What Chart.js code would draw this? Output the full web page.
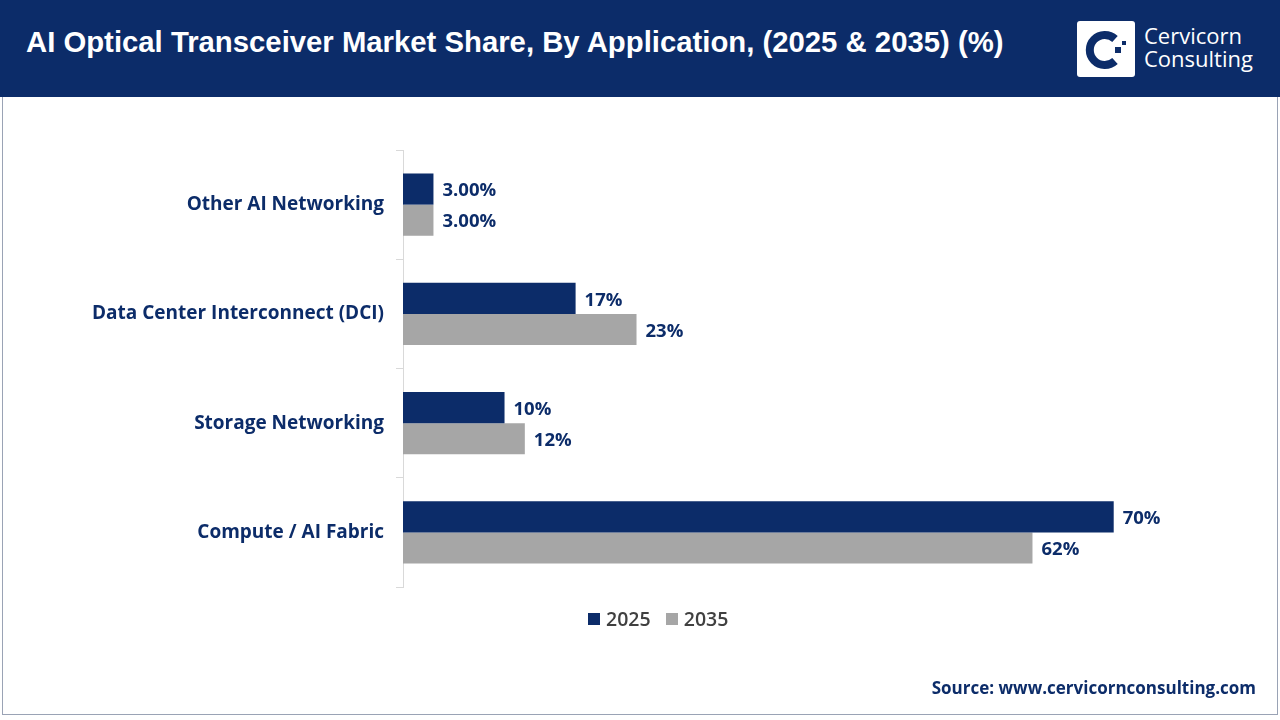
<!DOCTYPE html>
<html><head><meta charset="utf-8">
<script src="https://cdn.jsdelivr.net/npm/chart.js@4"></script>
<style>
body{margin:0;width:1280px;height:720px;overflow:hidden;background:#fff;font-family:"Open Sans",sans-serif;}
#hdr{position:absolute;left:0;top:0;width:1280px;height:97px;background:#0c2c69;}
#title{position:absolute;left:26px;top:25px;color:#fff;font:bold 29.3px "Liberation Sans",Arial,sans-serif;}
#logo{position:absolute;left:1077px;top:21px;width:58px;height:56px;background:#fff;border-radius:3px;}
#lt{position:absolute;left:1144px;top:24px;color:#fff;font:22px "Open Sans";line-height:23px;}
#frame{position:absolute;left:2px;top:97px;width:1274px;height:617px;border:1px solid #9aa3b5;border-top:none;}
canvas{position:absolute;left:0;top:0;}
#leg{position:absolute;top:605px;left:588px;font:600 19.5px "Open Sans";color:#404040;}
#leg span.b{display:inline-block;width:12px;height:12px;margin-right:6px;vertical-align:1px;}
#src{position:absolute;right:24px;top:676px;font:bold 17px "Open Sans";color:#0c2c69;}
</style></head><body>
<div id="hdr"></div>
<div id="title">AI Optical Transceiver Market Share, By Application, (2025 &amp; 2035) (%)</div>
<div id="logo"><svg width="58" height="56" viewBox="0 0 58 56"><path d="M38 18 A15 15 0 1 0 38 40" fill="none" stroke="#0c2c69" stroke-width="8"/><rect x="38" y="26" width="6" height="6" fill="#0c2c69"/><rect x="45" y="20" width="4" height="4" fill="#0c2c69"/></svg></div>
<div id="lt">Cervicorn<br>Consulting</div>
<div id="frame"></div>
<canvas id="c" width="1280" height="720"></canvas>
<div id="leg"><span class="b" style="background:#0c2c69"></span>2025&nbsp;&nbsp;&nbsp;<span class="b" style="background:#a6a6a6"></span>2035</div>
<div id="src">Source: www.cervicornconsulting.com</div>
<script>
const categories=["Other AI Networking","Data Center Interconnect (DCI)","Storage Networking","Compute / AI Fabric"];
const values2025=[3,17,10,70];
const values2035=[3,23,12,62];
const labels2025=["3.00%","17%","10%","70%"];
const labels2035=["3.00%","23%","12%","62%"];
const lbl={id:'lbl',afterDatasetsDraw(ch){const ctx=ch.ctx;ctx.save();ctx.font='bold 18.5px "Open Sans"';ctx.fillStyle='#0c2c69';ctx.textBaseline='middle';
[labels2025,labels2035].forEach((L,d)=>{ch.getDatasetMeta(d).data.forEach((b,i)=>{ctx.fillText(L[i],b.x+9,b.y+2);});});ctx.restore();}};
new Chart(document.getElementById('c'),{type:'bar',
data:{labels:categories,datasets:[{label:'2025',data:values2025,backgroundColor:'#0c2c69'},{label:'2035',data:values2035,backgroundColor:'#a6a6a6'}]},
options:{indexAxis:'y',responsive:false,animation:false,categoryPercentage:0.57,barPercentage:1,
layout:{padding:{top:150,bottom:133,right:14,left:0}},
plugins:{legend:{display:false},tooltip:{enabled:false}},
scales:{x:{display:false,min:0,max:85},
y:{afterFit(s){s.width=403;},grid:{offset:true,drawOnChartArea:false,tickLength:7,color:'#d9d9d9'},border:{color:'#d9d9d9'},
ticks:{color:'#0c2c69',font:{family:'Open Sans',size:19,weight:'bold'},padding:12}}}},
plugins:[lbl]});
</script></body></html>
